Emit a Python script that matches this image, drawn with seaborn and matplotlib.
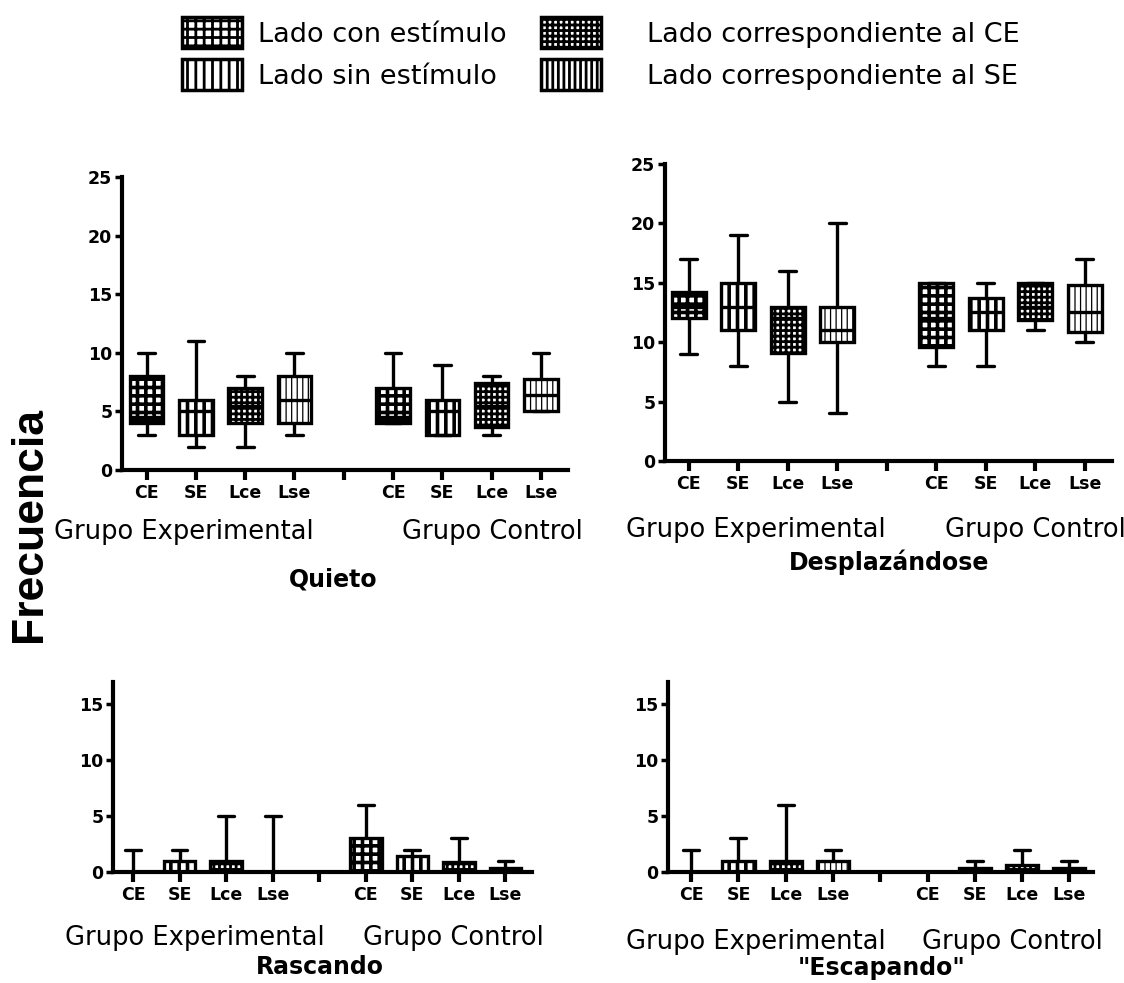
import numpy as np
import pandas as pd
import matplotlib
matplotlib.use("Agg")
import matplotlib.pyplot as plt
import seaborn as sns
from matplotlib.patches import Patch

sns.set_style("ticks")
plt.rcParams["font.family"] = ["DejaVu Sans"]
plt.rcParams["hatch.linewidth"] = 2.0
for k in ["text.color", "axes.labelcolor", "xtick.color", "ytick.color", "axes.edgecolor"]:
    plt.rcParams[k] = "black"

W, H = 1124, 983

# categories (9 slots, one empty gap between the two groups)
slots = ["CE_E", "SE_E", "Lce_E", "Lse_E", "gap", "CE_C", "SE_C", "Lce_C", "Lse_C"]
tick_labels = ["CE", "SE", "Lce", "Lse", "", "CE", "SE", "Lce", "Lse"]
box_slots = [s for s in slots if s != "gap"]
groups = ["Grupo Experimental", "Grupo Control"]
legend_labels = ["Lado con estímulo", "Lado sin estímulo",
                 "Lado correspondiente al CE", "Lado correspondiente al SE"]

# five-number summaries: min, Q1, median, Q3, max
quieto = [[3, 4, 4.5, 8, 10], [2, 3, 5, 6, 11], [2, 4, 5.5, 7, 8], [3, 4, 6, 8, 10],
          [4, 4, 4.5, 7, 10], [3, 3, 5, 6, 9], [3, 3.7, 5.5, 7.4, 8], [5, 5, 6.4, 7.8, 10]]
desplazandose = [[9, 12, 13, 14.2, 17], [8, 11, 13, 15, 19], [5, 9.1, 12, 13, 16], [4, 10, 11, 13, 20],
                 [8, 9.6, 12, 15, 15], [8, 11, 12.5, 13.7, 15], [11, 11.9, 13, 15, 15], [10, 10.9, 12.5, 14.8, 17]]
rascando = [[0, 0, 0, 0, 2], [0, 0, 0, 1, 2], [0, 0, 0, 1, 5], [0, 0, 0, 0, 5],
            [0, 0, 0, 3, 6], [0, 0, 0, 1.4, 2], [0, 0, 0, 0.9, 3], [0, 0, 0, 0.4, 1]]
escapando = [[0, 0, 0, 0, 2], [0, 0, 0, 1, 3], [0, 0, 0, 1, 6], [0, 0, 0, 1, 2],
             [0, 0, 0, 0, 0], [0, 0, 0, 0.4, 1], [0, 0, 0, 0.6, 2], [0, 0, 0, 0.4, 1]]

hatches = {"CE": "++", "SE": "||", "Lce": "+++", "Lse": "|||"}
hatch_lw = {"CE": 2.6, "SE": 2.6, "Lce": 2.0, "Lse": 0.9}


def fx(x):
    return x / W


def fy(y):
    return 1 - y / H


fig = plt.figure(figsize=(W / 100, H / 100), dpi=100)


def panel(rect, stats, ylim, yticks, xlim, title, title_xy, grp_xy):
    ax = fig.add_axes(rect)
    rows = [(s, v) for s, st in zip(box_slots, stats) for v in st]
    df = pd.DataFrame(rows, columns=["slot", "value"])
    sns.boxplot(data=df, x="slot", y="value", order=slots, whis=(0, 100), width=0.68,
                color="white", linecolor="black", linewidth=2.4, showfliers=False, ax=ax,
                medianprops=dict(color="black", linewidth=2.4))
    for p in ax.patches:
        v = p.get_path().vertices
        xc = (v[:, 0].min() + v[:, 0].max()) / 2
        kind = slots[int(round(xc))].split("_")[0]
        p.set_hatch(hatches[kind])
        if hasattr(p, "set_hatch_linewidth"):
            p.set_hatch_linewidth(hatch_lw[kind])
        p.set_edgecolor("black")
    ax.set_xlim(*xlim)
    ax.set_ylim(*ylim)
    ax.set_xticks(range(len(slots)))
    ax.set_xticklabels(tick_labels, fontweight="bold", fontsize=12.5)
    ax.set_yticks(yticks)
    ax.set_yticklabels([str(t) for t in yticks], fontweight="bold", fontsize=12.5)
    ax.tick_params(axis="y", direction="out", length=5, width=2.5, pad=2, colors="black")
    ax.tick_params(axis="x", direction="out", length=7, width=3, pad=3, colors="black")
    ax.set_xlabel("")
    ax.set_ylabel("")
    sns.despine(ax=ax)
    for s in ["left", "bottom"]:
        ax.spines[s].set_linewidth(3)
        ax.spines[s].set_color("black")
    for g, (x, y) in zip(groups, grp_xy):
        fig.text(fx(x), fy(y), g, ha="center", va="center", fontsize=18.5, color="black")
    fig.text(fx(title_xy[0]), fy(title_xy[1]), title, ha="center", va="center",
             fontsize=17, fontweight="bold", color="black")
    return ax


panel([fx(122), fy(470), fx(568 - 122), (470 - 177) / H], quieto, (0, 25), [0, 5, 10, 15, 20, 25],
      (-0.5, 8.55), "Quieto", (333, 580), [(184, 532), (492, 532)])
panel([fx(665), fy(461), fx(1112 - 665), (461 - 164) / H], desplazandose, (0, 25), [0, 5, 10, 15, 20, 25],
      (-0.48, 8.55), "Desplazándose", (889, 562), [(756, 530), (1035, 530)])
panel([fx(113), fy(872), fx(532 - 113), (872 - 682) / H], rascando, (0, 17), [0, 5, 10, 15],
      (-0.43, 8.57), "Rascando", (320, 967), [(195, 938), (453, 938)])
panel([fx(668), fy(872), fx(1093 - 668), (872 - 682) / H], escapando, (0, 17), [0, 5, 10, 15],
      (-0.49, 8.5), "\"Escapando\"", (882, 968), [(756, 942), (1012, 942)])

fig.text(fx(30), fy(525), "Frecuencia", rotation=90, ha="center", va="center",
         fontsize=32, fontweight="bold", family=["Liberation Sans", "DejaVu Sans"], color="black")

kinds = ["CE", "SE", "Lce", "Lse"]
handles = []
for k in kinds:
    h = Patch(facecolor="white", edgecolor="black", hatch=hatches[k], linewidth=2.5)
    if hasattr(h, "set_hatch_linewidth"):
        h.set_hatch_linewidth(hatch_lw[k])
    handles.append(h)

common = dict(loc="upper left", frameon=False, fontsize=19.5, handlelength=2.2,
              handleheight=1.4, labelspacing=0.4, borderpad=0, borderaxespad=0,
              labelcolor="black")
leg1 = fig.legend(handles[:2], legend_labels[:2], bbox_to_anchor=(fx(182), fy(17)),
                  handletextpad=0.6, **common)
leg2 = fig.legend(handles[2:], legend_labels[2:], bbox_to_anchor=(fx(541), fy(17)),
                  handletextpad=1.7, **common)

fig.savefig("out.png", dpi=100)
